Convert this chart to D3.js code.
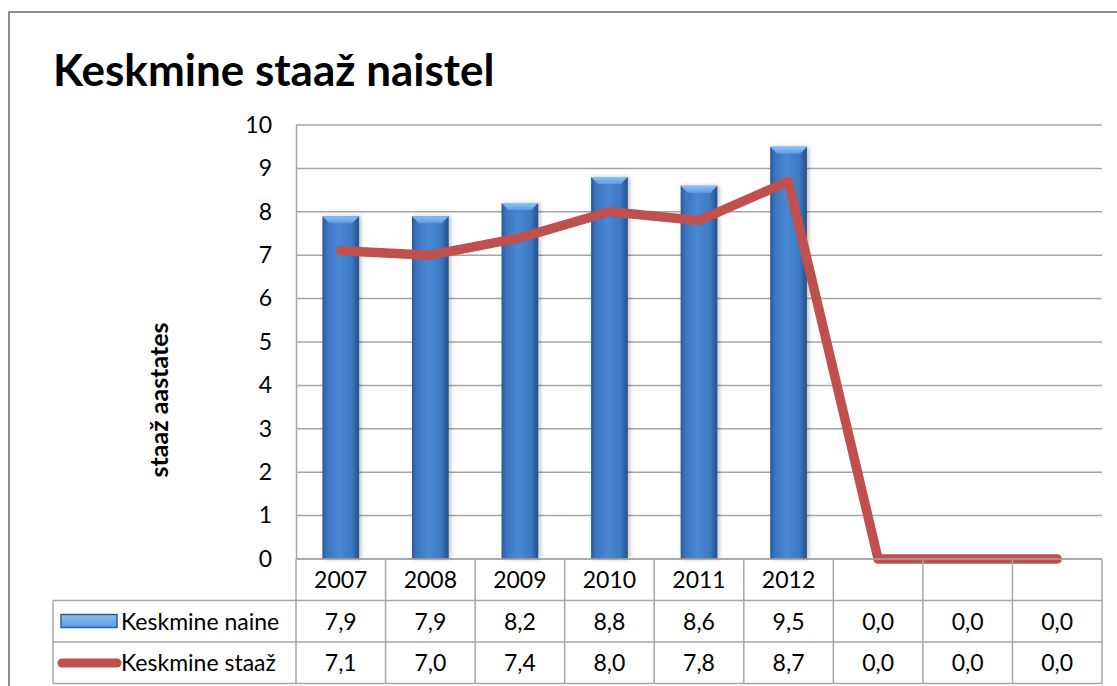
<!DOCTYPE html>
<html>
<head>
<meta charset="utf-8">
<script src="https://cdn.jsdelivr.net/npm/d3@7"></script>
<style>
  body { margin: 0; background: #fff; }
  svg { display: block; font-family: Lato, "Open Sans", sans-serif; }
</style>
</head>
<body>
<div id="container"></div>
<script>
/* DATA */
const categories = ["2007", "2008", "2009", "2010", "2011", "2012", "", "", ""];
const naineValues = [7.9, 7.9, 8.2, 8.8, 8.6, 9.5, 0, 0, 0];
const staazValues = [7.1, 7.0, 7.4, 8.0, 7.8, 8.7, 0, 0, 0];
const seriesNames = ["Keskmine naine", "Keskmine staaž"];
const yTicks = [0, 1, 2, 3, 4, 5, 6, 7, 8, 9, 10];

/* CONSTANTS */
const W = 1117, H = 686;
const plot = { left: 296, right: 1102, top: 125, bottom: 559 };
const rowH = 41.5;
const tableLeft = 53;
const gridColor = "#a6a6a6";
const fs = 23;
const fmt = v => d3.format(".1f")(v).replace(".", ",");

const svg = d3.select("#container").append("svg")
  .attr("width", W).attr("height", H);

// gradients for the bevelled bars
const defs = svg.append("defs");
const g1 = defs.append("linearGradient").attr("id", "barGrad")
  .attr("x1", 0).attr("x2", 1).attr("y1", 0).attr("y2", 0);
[["0%", "#2a5994"], ["12%", "#3a74bd"], ["45%", "#4a88d4"], ["80%", "#3d78c2"], ["100%", "#24508a"]]
  .forEach(([o, c]) => g1.append("stop").attr("offset", o).attr("stop-color", c));
const g2 = defs.append("linearGradient").attr("id", "capGrad")
  .attr("x1", 0).attr("x2", 0).attr("y1", 0).attr("y2", 1);
[["0%", "#8ec0f2"], ["100%", "#5c9be0"]]
  .forEach(([o, c]) => g2.append("stop").attr("offset", o).attr("stop-color", c));
const sh = defs.append("filter").attr("id", "shadow").attr("x", "-20%").attr("width", "150%");
sh.append("feDropShadow").attr("dx", 2).attr("dy", 0).attr("stdDeviation", 2)
  .attr("flood-color", "#000").attr("flood-opacity", 0.25);

// outer chart frame
svg.append("rect")
  .attr("x", 9).attr("y", 12).attr("width", W + 20).attr("height", H + 20)
  .attr("fill", "none").attr("stroke", "#8c8c8c").attr("stroke-width", 2);

// title
svg.append("text")
  .attr("x", 53).attr("y", 86)
  .attr("font-size", 44).attr("font-weight", "bold").attr("fill", "#000")
  .text("Keskmine staaž naistel");

/* SCALES */
const x = d3.scaleBand()
  .domain(d3.range(categories.length))
  .range([plot.left, plot.right])
  .padding(0);

const y = d3.scaleLinear()
  .domain([0, 10])
  .range([plot.bottom, plot.top]);

// gridlines
svg.append("g")
  .selectAll("line")
  .data(yTicks)
  .join("line")
  .attr("x1", plot.left).attr("x2", plot.right)
  .attr("y1", d => y(d)).attr("y2", d => y(d))
  .attr("stroke", gridColor).attr("stroke-width", 1.5);

// y axis
const yAxis = svg.append("g")
  .attr("transform", `translate(${plot.left},0)`)
  .call(d3.axisLeft(y).tickValues(yTicks).tickSize(0).tickPadding(24));
yAxis.select(".domain").attr("stroke", gridColor).attr("stroke-width", 1.5);
yAxis.selectAll("text").attr("font-size", fs).attr("font-family", "Lato").attr("fill", "#000");

// y axis title
svg.append("text")
  .attr("transform", `translate(168,400) rotate(-90)`)
  .attr("text-anchor", "middle")
  .attr("font-size", 25).attr("font-weight", "bold")
  .text("staaž aastates");

// bars
const barW = x.bandwidth() * 0.41;
const bars = svg.append("g").selectAll("g.bar")
  .data(naineValues.map((v, i) => ({ v, i })).filter(d => d.v > 0))
  .join("g").attr("class", "bar");

bars.append("rect")
  .attr("x", d => x(d.i) + (x.bandwidth() - barW) / 2)
  .attr("y", d => y(d.v))
  .attr("width", barW)
  .attr("height", d => y(0) - y(d.v))
  .attr("fill", "url(#barGrad)")
  .attr("filter", "url(#shadow)");

bars.append("path")
  .attr("d", d => {
    const x0 = x(d.i) + (x.bandwidth() - barW) / 2, x1 = x0 + barW, t = y(d.v), b = 7;
    return `M${x0},${t}L${x1},${t}L${x1 - b},${t + b}L${x0 + b},${t + b}Z`;
  })
  .attr("fill", "url(#capGrad)");

// line
const line = d3.line()
  .x((d, i) => x(i) + x.bandwidth() / 2)
  .y(d => y(d));

svg.append("path")
  .datum(staazValues)
  .attr("d", line)
  .attr("fill", "none")
  .attr("stroke", "#c0504d")
  .attr("stroke-width", 9.5)
  .attr("stroke-linecap", "round")
  .attr("stroke-linejoin", "round");

/* DATA TABLE */
const table = svg.append("g");
const r0 = plot.bottom, r1 = r0 + rowH, r2 = r1 + rowH, r3 = r2 + rowH;

// horizontal lines
[[plot.left, r0], [tableLeft, r1], [tableLeft, r2], [tableLeft, r3]].forEach(([xs, yy]) => {
  table.append("line")
    .attr("x1", xs).attr("x2", plot.right)
    .attr("y1", yy).attr("y2", yy)
    .attr("stroke", gridColor).attr("stroke-width", 1.5);
});
// vertical lines
table.append("line")
  .attr("x1", tableLeft).attr("x2", tableLeft).attr("y1", r1).attr("y2", r3)
  .attr("stroke", gridColor).attr("stroke-width", 1.5);
table.selectAll("line.col")
  .data(d3.range(categories.length + 1))
  .join("line").attr("class", "col")
  .attr("x1", i => i < categories.length ? x(i) : plot.right)
  .attr("x2", i => i < categories.length ? x(i) : plot.right)
  .attr("y1", r0).attr("y2", r3)
  .attr("stroke", gridColor).attr("stroke-width", 1.5);

// header row (categories)
table.selectAll("text.cat")
  .data(categories)
  .join("text").attr("class", "cat")
  .attr("x", (d, i) => x(i) + x.bandwidth() / 2)
  .attr("y", r0 + 29)
  .attr("text-anchor", "middle")
  .attr("font-size", fs)
  .text(d => d);

// value rows
[naineValues, staazValues].forEach((vals, k) => {
  table.selectAll(`text.v${k}`)
    .data(vals)
    .join("text").attr("class", `v${k}`)
    .attr("x", (d, i) => x(i) + x.bandwidth() / 2)
    .attr("y", (k === 0 ? r1 : r2) + 29)
    .attr("text-anchor", "middle")
    .attr("font-size", fs)
    .text(d => fmt(d));
});

// legend keys + series names
table.append("rect")
  .attr("x", 61).attr("y", r1 + 14).attr("width", 56).attr("height", 13)
  .attr("fill", "url(#capGrad)").attr("stroke", "#2c5d99").attr("stroke-width", 1.5);
table.append("line")
  .attr("x1", 62).attr("x2", 117).attr("y1", r2 + 21).attr("y2", r2 + 21)
  .attr("stroke", "#c0504d").attr("stroke-width", 9).attr("stroke-linecap", "round");

table.selectAll("text.name")
  .data(seriesNames)
  .join("text").attr("class", "name")
  .attr("x", 121)
  .attr("y", (d, i) => (i === 0 ? r1 : r2) + 29)
  .attr("font-size", fs)
  .text(d => d);
</script>
</body>
</html>
